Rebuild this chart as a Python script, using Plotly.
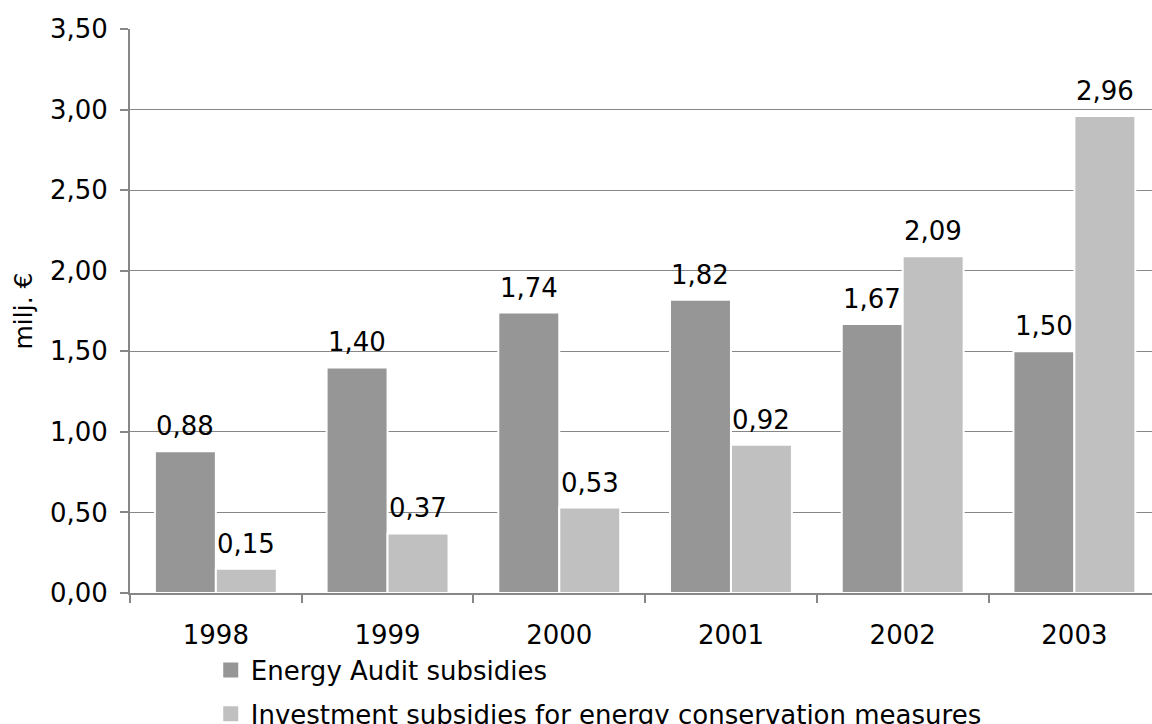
import plotly.graph_objects as go

# Subsidies per year (million euro)
years = ["1998", "1999", "2000", "2001", "2002", "2003"]
audit_subsidies = [0.88, 1.40, 1.74, 1.82, 1.67, 1.50]
investment_subsidies = [0.15, 0.37, 0.53, 0.92, 2.09, 2.96]

series_names = [
    "Energy Audit subsidies",
    "Investment subsidies for energy conservation measures",
]
y_ticks = [0.0, 0.5, 1.0, 1.5, 2.0, 2.5, 3.0, 3.5]

FONT = "Verdana, DejaVu Sans, sans-serif"
FS = 26
AXIS_GREY = "#878787"
DARK = "#969696"
LIGHT = "#c0c0c0"

fig = go.Figure()
series = [
    (series_names[0], audit_subsidies, DARK, "a"),
    (series_names[1], investment_subsidies, LIGHT, "b"),
]
for name, vals, color, grp in series:
    fig.add_trace(go.Bar(
        x=years, y=vals, name=name, legendgroup=grp, showlegend=False,
        marker=dict(color=color, line=dict(color="white", width=2)),
        hoverinfo="x+y",
    ))
# legend keys drawn as square swatches
for name, vals, color, grp in series:
    fig.add_trace(go.Scatter(
        x=[None], y=[None], name=name, legendgroup=grp, mode="markers",
        marker=dict(symbol="square", size=15, color=color),
    ))

# value labels above each bar (x given as category index)
half_offset = 30.5
for vals, shift in [(audit_subsidies, -half_offset), (investment_subsidies, half_offset)]:
    for i, v in enumerate(vals):
        fig.add_annotation(
            x=i, y=v, xref="x", yref="y", xshift=shift, yshift=8,
            text=f"{v:.2f}".replace(".", ","),
            showarrow=False, yanchor="bottom",
            font=dict(family=FONT, size=FS, color="black"),
        )

fig.update_layout(
    width=1152, height=724,
    margin=dict(l=130, r=0, t=29, b=131, autoexpand=False),
    paper_bgcolor="white", plot_bgcolor="white",
    barmode="group", bargap=0.29, bargroupgap=0,
    separators=", ",
    font=dict(family=FONT, size=FS, color="black"),
    legend=dict(
        orientation="v",
        x=0.079, y=-0.095, xanchor="left", yanchor="top",
        font=dict(family=FONT, size=FS, color="black"),
        tracegroupgap=7, bgcolor="rgba(0,0,0,0)",
    ),
    showlegend=True,
)

fig.update_xaxes(
    type="category", range=[-0.5, 5.452],
    showline=True, linecolor=AXIS_GREY, linewidth=2,
    ticks="outside", tickson="boundaries", ticklen=8, tickwidth=2,
    tickcolor=AXIS_GREY, showgrid=False, ticklabelstandoff=18,
    tickangle=0,
    tickfont=dict(family=FONT, size=FS, color="black"),
)
fig.update_yaxes(
    range=[0, 3.5], tickvals=y_ticks, tickformat=".2f",
    showline=True, linecolor=AXIS_GREY, linewidth=2,
    ticks="outside", ticklen=8, tickwidth=2, tickcolor=AXIS_GREY,
    showgrid=True, gridcolor=AXIS_GREY, gridwidth=1.3,
    zeroline=False, ticklabelstandoff=7,
    tickfont=dict(family=FONT, size=FS, color="black"),
    title=dict(text="milj. €", standoff=10,
               font=dict(family=FONT, size=25, color="black")),
)

fig.write_html("out.html")
